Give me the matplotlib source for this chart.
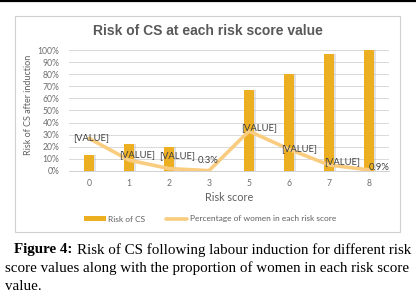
import matplotlib.pyplot as plt
from matplotlib.patches import Rectangle
import numpy as np

# risk score categories and the two series (in %)
scores = ["0", "1", "2", "3", "5", "6", "7", "8"]
risk_cs = [13, 22, 20, 0, 67, 80, 97, 100]
pct_women = [27, 9, 2, 0.3, 33, 18, 5, 0.9]
point_labels = ["[VALUE]", "[VALUE]", "[VALUE]", "0.3%", "[VALUE]", "[VALUE]", "[VALUE]", "0.9%"]
# label offsets from each point, in pixels (dx, dy up)
label_offsets = [(2, 1), (8, 5), (8, 13), (-1, 10), (10, 3), (10, 1), (13, 3), (10, 2)]

W, H = 416, 301
fig = plt.figure(figsize=(W / 100, H / 100), dpi=100)
chart_font = "Lato"

# black rule at the very top
fig.add_artist(plt.Line2D([0, 1], [1 - 1 / H, 1 - 1 / H], color="black", lw=1.6))

# chart frame (behind the axes)
frame = Rectangle((15 / W, 1 - 232 / H), 385 / W, 216 / H, transform=fig.transFigure,
                  facecolor="white", edgecolor="#D0D0D0", lw=0.8, zorder=-5)
fig.add_artist(frame)

ax = fig.add_axes([69 / W, 1 - 171 / H, 320 / W, 121 / H])
ax.set_zorder(2)
ax.patch.set_alpha(0)
x = np.arange(len(scores))

# soft shadow behind bars, then bars
ax.bar(x + 0.03, risk_cs, width=0.29, color="#B0B0B0", alpha=0.35, zorder=2)
bars = ax.bar(x, risk_cs, width=0.27, color="#EDAF22", zorder=3, label="Risk of CS")
line, = ax.plot(x, pct_women, color="#F9CC80", lw=2.6, solid_capstyle="round", zorder=4,
                label="Percentage of women in each risk score")

for xi, yi, txt, (dx, dy) in zip(x, pct_women, point_labels, label_offsets):
    ax.annotate(txt, (xi, yi), xytext=(dx * 0.72, dy * 0.72), textcoords="offset points",
                ha="center", va="center", fontsize=6.8, color="#404040", zorder=5,
                family=chart_font)

ax.set_xlim(-0.5, len(scores) - 0.5)
ax.set_ylim(0, 100)
ax.set_yticks(range(0, 101, 10))
ax.set_yticklabels([f"{v}%" for v in range(0, 101, 10)], family=chart_font)
ax.set_xticks(x)
ax.set_xticklabels(scores, family=chart_font)
ax.yaxis.grid(True, color="#D9D9D9", lw=0.7, zorder=0)
ax.set_axisbelow(True)
for s in ["top", "right", "left"]:
    ax.spines[s].set_visible(False)
ax.spines["bottom"].set_color("#D0D0D0")
ax.spines["bottom"].set_linewidth(0.7)
ax.tick_params(length=0, labelsize=6.2, colors="#707070", pad=7)
ax.tick_params(axis="x", pad=6)

ax.set_xlabel("Risk score", fontsize=7.8, color="#606060", labelpad=3, family=chart_font)
ax.set_ylabel("Risk of CS after induction", fontsize=6.5, color="#606060", labelpad=5,
              family=chart_font)
ax.yaxis.set_label_coords(-0.112, 0.55)

fig.text(0.5, 1 - 31 / H, "Risk of CS at each risk score value", ha="center", va="center",
         fontsize=10, fontweight="bold", color="#595959", family="Liberation Sans")

fig.legend(handles=[bars, line], loc="center", bbox_to_anchor=(0.505, 1 - 219 / H), ncol=2,
           frameon=False, prop={"family": chart_font, "size": 6.0}, handlelength=2.6,
           handleheight=0.5, handletextpad=0.3, columnspacing=2.4, labelcolor="#606060")

# caption
cap_kw = dict(family="Liberation Serif", fontsize=10.8, va="center", color="black")
fig.text(14 / W, 1 - 250 / H, "Figure 4:", fontweight="bold", **cap_kw)
fig.text(77 / W, 1 - 250 / H, "Risk of CS following labour induction for different risk", **cap_kw)
fig.text(5 / W, 1 - 268 / H, "score values along with the proportion of women in each risk score", **cap_kw)
fig.text(5 / W, 1 - 286 / H, "value.", **cap_kw)

fig.savefig("out.png", dpi=100)
